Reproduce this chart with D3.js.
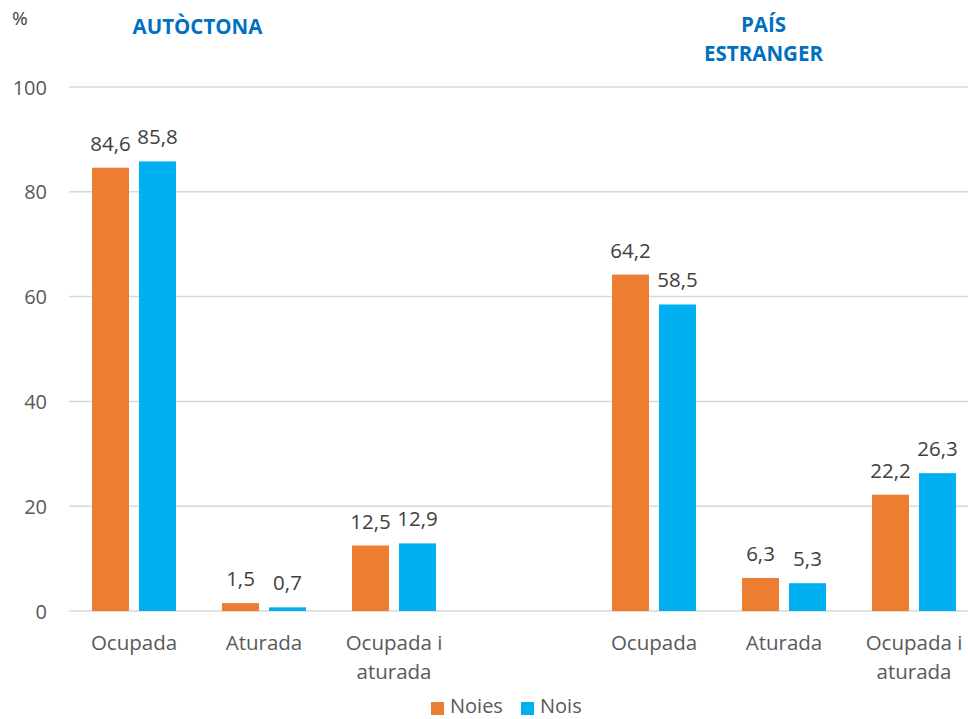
<!DOCTYPE html>
<html>
<head>
<meta charset="utf-8">
<script src="https://cdn.jsdelivr.net/npm/d3@7"></script>
<style>
  html, body { margin: 0; padding: 0; background: #fff; }
  svg { display: block; font-family: "Open Sans", sans-serif; }
</style>
</head>
<body>
<svg id="chart" width="968" height="719"></svg>
<script>
// ---- data ----
const groups = ["AUTÒCTONA", "PAÍS ESTRANGER"];
const categories = ["Ocupada", "Aturada", "Ocupada i aturada"];
const series = ["Noies", "Nois"];
const noies = [84.6, 1.5, 12.5, 64.2, 6.3, 22.2];
const nois  = [85.8, 0.7, 12.9, 58.5, 5.3, 26.3];
const yTicks = [0, 20, 40, 60, 80, 100];
const colors = ["#ED7D31", "#00B0F0"];

// ---- layout ----
const W = 968, H = 719;
const plotLeft = 69, plotRight = 979;
const y0px = 611, y100px = 87;

const svg = d3.select("#chart");

// slots: group1 cats, spacer, group2 cats
const slots = [];
groups.forEach((g, gi) => {
  categories.forEach((c, ci) => slots.push({ key: gi + "|" + ci, group: gi, cat: c, idx: gi * categories.length + ci }));
  if (gi < groups.length - 1) slots.push({ key: "gap" + gi, spacer: true });
});

const x0 = d3.scaleBand().domain(slots.map(s => s.key)).range([plotLeft, plotRight]).padding(0);
const x1 = d3.scaleBand().domain(series).range([0, x0.bandwidth()]).paddingInner(0.213).paddingOuter(0.49);
const y = d3.scaleLinear().domain([0, 100]).range([y0px, y100px]);

// gridlines
svg.append("g").selectAll("line").data(yTicks).join("line")
  .attr("x1", plotLeft).attr("x2", W)
  .attr("y1", d => y(d)).attr("y2", d => y(d))
  .attr("stroke", "#d9d9d9").attr("stroke-width", 1.5);

// y axis labels
const yAxis = d3.axisLeft(y).tickValues(yTicks).tickSize(0).tickPadding(0).tickFormat(d3.format("d"));
const yg = svg.append("g").attr("transform", `translate(47,0)`).call(yAxis);
yg.select(".domain").remove();
yg.selectAll("text").attr("font-size", 20).attr("fill", "#595959").attr("font-family", "Open Sans, sans-serif").attr("dy", "0.35em");

// "%" label
svg.append("text").attr("x", 12).attr("y", 25).attr("font-size", 19).attr("fill", "#404040").text("%");

// bars
const barData = [];
slots.filter(s => !s.spacer).forEach(s => {
  barData.push({ slot: s.key, s: "Noies", v: noies[s.idx], c: colors[0] });
  barData.push({ slot: s.key, s: "Nois", v: nois[s.idx], c: colors[1] });
});
svg.append("g").selectAll("rect").data(barData).join("rect")
  .attr("x", d => x0(d.slot) + x1(d.s))
  .attr("width", x1.bandwidth())
  .attr("y", d => y(d.v))
  .attr("height", d => y(0) - y(d.v))
  .attr("fill", d => d.c);

// data labels
const fmt = v => d3.format(".1f")(v).replace(".", ",");
svg.append("g").selectAll("text").data(barData).join("text")
  .attr("x", d => x0(d.slot) + x1(d.s) + x1.bandwidth() / 2)
  .attr("y", d => y(d.v) - 17)
  .attr("text-anchor", "middle")
  .attr("font-size", 20.5)
  .attr("fill", "#404040")
  .text(d => fmt(d.v));

// category labels
const catLines = { "Ocupada": ["Ocupada"], "Aturada": ["Aturada"], "Ocupada i aturada": ["Ocupada i", "aturada"] };
const cl = svg.append("g").selectAll("text").data(slots.filter(s => !s.spacer)).join("text")
  .attr("x", d => x0(d.key) + x0.bandwidth() / 2)
  .attr("y", 650)
  .attr("text-anchor", "middle")
  .attr("font-size", 20.5)
  .attr("fill", "#595959");
cl.each(function(d) {
  const t = d3.select(this);
  catLines[d.cat].forEach((ln, i) => {
    t.append("tspan").attr("x", x0(d.key) + x0.bandwidth() / 2).attr("dy", i === 0 ? 0 : 28.5).text(ln);
  });
});

// group titles
const titleLines = [["AUTÒCTONA"], ["PAÍS", "ESTRANGER"]];
const titlePos = [{ x: 197.5, y: 34 }, { x: 763.5, y: 32 }];
titleLines.forEach((lines, gi) => {
  const t = svg.append("text")
    .attr("x", titlePos[gi].x).attr("y", titlePos[gi].y)
    .attr("text-anchor", "middle").attr("font-size", 20.5).attr("font-weight", "bold")
    .attr("fill", "#0070C0");
  lines.forEach((ln, i) => t.append("tspan").attr("x", titlePos[gi].x).attr("dy", i === 0 ? 0 : 28.5).text(ln));
});

// legend
const legend = svg.append("g");
const legX = [431, 521];
series.forEach((s, i) => {
  legend.append("rect").attr("x", legX[i]).attr("y", 702).attr("width", 13).attr("height", 13).attr("fill", colors[i]);
  legend.append("text").attr("x", legX[i] + 19).attr("y", 713).attr("font-size", 20).attr("fill", "#595959").text(s);
});
</script>
</body>
</html>
